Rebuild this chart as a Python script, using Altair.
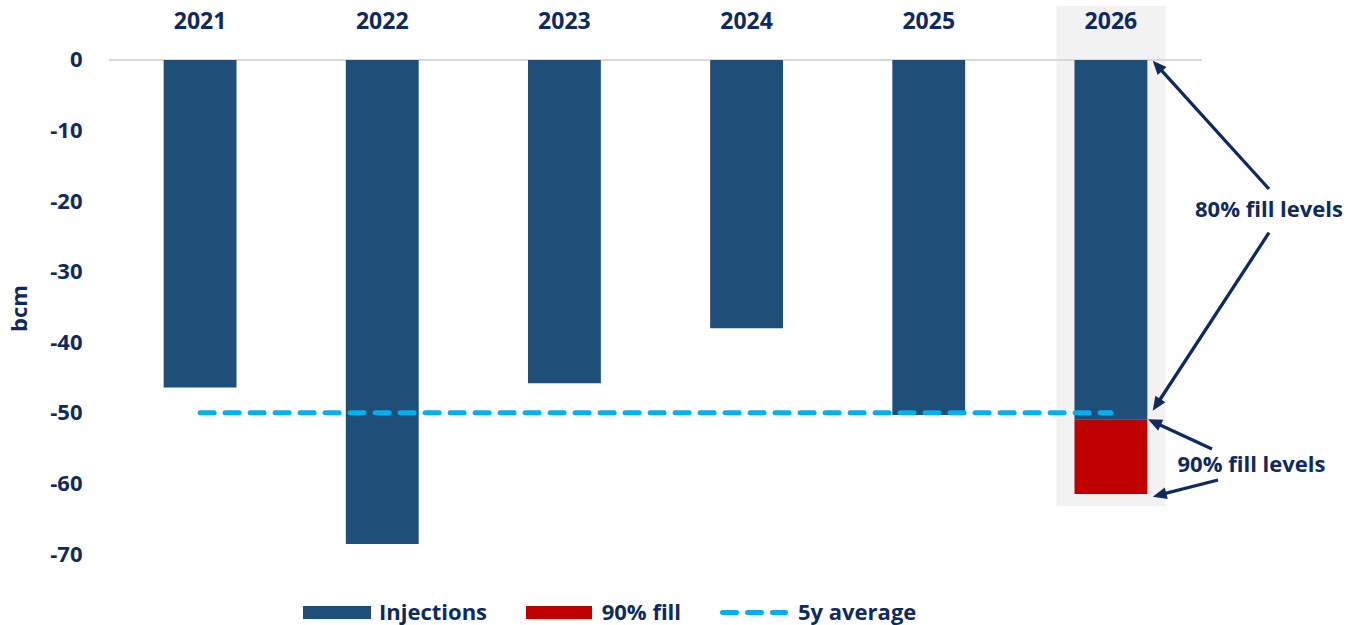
import math
import altair as alt
import pandas as pd

# ---------------- data ----------------
YEARS = ["2021", "2022", "2023", "2024", "2025", "2026"]
INJECTIONS = [-46.4, -68.6, -45.8, -38.0, -50.3, -50.9]
FILL_90_YEAR = "2026"
FILL_90_BOTTOM = -61.5
AVG_5Y = -50.0
Y_TICKS = [0, -10, -20, -30, -40, -50, -60, -70]
LEGEND_LABELS = ["Injections", "90% fill", "5y average"]
ANNOT_80 = "80% fill levels"
ANNOT_90 = "90% fill levels"
Y_TITLE = "bcm"

# ---------------- style ----------------
NAVY = "#1f4e79"
RED = "#c00000"
CYAN = "#00b0f0"
TEXT = "#0f2a5e"
ZERO = "#d9d9d9"
HILITE = "#f2f2f2"
FONT = "Open Sans"
FS = 22

W, H = 1093, 555
PAD_L, PAD_T = 109, 5

x_scale = alt.Scale(domain=YEARS, paddingInner=0.6, paddingOuter=0.3)
y_scale = alt.Scale(domain=[-70.85, 7.79], nice=False, zero=False)
X = alt.X("year:N", scale=x_scale, axis=None)

y_axis = alt.Axis(
    values=Y_TICKS, labelExpr="datum.value + ''", grid=False, ticks=False,
    domain=False, labelFont=FONT, labelFontSize=FS, labelFontWeight="bold",
    labelColor=TEXT, labelPadding=27, title=Y_TITLE, titleFont=FONT,
    titleFontSize=FS, titleFontWeight="bold", titleColor=TEXT,
    titleX=19.5 - PAD_L, titleY=308 - PAD_T, titleAngle=-90,
    titleAlign="center", titleBaseline="middle",
)

bars_df = pd.DataFrame({"year": YEARS, "value": INJECTIONS, "base": [0] * len(YEARS)})
fill_df = pd.DataFrame({"year": [FILL_90_YEAR],
                        "top": [INJECTIONS[YEARS.index(FILL_90_YEAR)]],
                        "bottom": [FILL_90_BOTTOM]})
avg_df = pd.DataFrame({"year": YEARS, "avg": [AVG_5Y] * len(YEARS)})

highlight = alt.Chart(pd.DataFrame({"year": [FILL_90_YEAR]})).mark_bar(
    color=HILITE, width=109
).encode(x=X, y=alt.value(1), y2=alt.value(501))

zero_rule = alt.Chart(pd.DataFrame({"v": [0]})).mark_rule(
    color=ZERO, strokeWidth=2
).encode(y=alt.Y("v:Q", scale=y_scale, axis=y_axis))

bars = alt.Chart(bars_df).mark_bar(color=NAVY).encode(
    x=X, y=alt.Y("value:Q", scale=y_scale, axis=y_axis), y2="base:Q"
)

fill_bar = alt.Chart(fill_df).mark_bar(color=RED).encode(
    x=X, y=alt.Y("bottom:Q", scale=y_scale, axis=y_axis), y2="top:Q"
)

avg_line = alt.Chart(avg_df).mark_line(
    color=CYAN, strokeWidth=5, strokeDash=[14, 11], strokeCap="round"
).encode(x=X, y=alt.Y("avg:Q", scale=y_scale, axis=y_axis))

year_labels = alt.Chart(pd.DataFrame({"year": YEARS})).mark_text(
    font=FONT, fontSize=23, fontWeight="bold", color=TEXT, baseline="middle"
).encode(x=X, y=alt.value(17), text="year:N")

# ---------------- annotations (pixel positions in plot area) ----------------
ARROWS = [  # tail x, tail y, tip x, tip y
    (1160, 184, 1043.7, 55.7),
    (1160, 227.7, 1043.7, 405.7),
    (1103, 444, 1039, 414.3),
    (1109, 475, 1043.7, 491.7),
]
rows, heads = [], []
for tx, ty, hx, hy in ARROWS:
    dx, dy = hx - tx, hy - ty
    L = math.hypot(dx, dy)
    ex, ey = hx - dx / L * 8, hy - dy / L * 8
    rows.append({"x": tx, "y": ty, "x2": ex, "y2": ey})
    ang = (math.degrees(math.atan2(dx, -dy)) + 360) % 360
    heads.append({"x": hx, "y": hy, "angle": ang})

arrow_lines = alt.Chart(pd.DataFrame(rows)).mark_rule(
    color=TEXT, strokeWidth=3.3
).encode(
    x=alt.X("x:Q", scale=None), y=alt.Y("y:Q", scale=None),
    x2="x2:Q", y2="y2:Q",
)
arrow_heads = alt.Chart(pd.DataFrame(heads)).mark_point(
    shape="M0,0L-0.857,2L0.857,2Z", size=196, filled=True, color=TEXT,
    opacity=1, strokeWidth=0,
).encode(
    x=alt.X("x:Q", scale=None), y=alt.Y("y:Q", scale=None),
    angle=alt.Angle("angle:Q", scale=None),
)

annot_df = pd.DataFrame({"label": [ANNOT_80, ANNOT_90],
                         "x": [1160, 1142.5], "y": [205, 460]})
annot_text = alt.Chart(annot_df).mark_text(
    font=FONT, fontSize=FS, fontWeight="bold", color=TEXT,
    align="center", baseline="middle",
).encode(x=alt.X("x:Q", scale=None), y=alt.Y("y:Q", scale=None), text="label:N")

# ---------------- legend ----------------
leg_rect_df = pd.DataFrame({"x": [194, 417], "x2": [262, 483],
                            "y": [601, 601], "y2": [614, 614],
                            "c": [NAVY, RED]})
leg_rects = alt.Chart(leg_rect_df).mark_rect().encode(
    x=alt.X("x:Q", scale=None), x2="x2:Q",
    y=alt.Y("y:Q", scale=None), y2="y2:Q",
    color=alt.Color("c:N", scale=None),
)
leg_dash = alt.Chart(pd.DataFrame({"x": [613.5], "x2": [676.5], "y": [607.5]})).mark_rule(
    color=CYAN, strokeWidth=5, strokeDash=[14, 11], strokeCap="round"
).encode(x=alt.X("x:Q", scale=None), x2="x2:Q", y=alt.Y("y:Q", scale=None))
leg_text = alt.Chart(pd.DataFrame({"label": LEGEND_LABELS,
                                   "x": [270, 492.7, 689], "y": [607.5] * 3})).mark_text(
    font=FONT, fontSize=FS, fontWeight="bold", color=TEXT,
    align="left", baseline="middle",
).encode(x=alt.X("x:Q", scale=None), y=alt.Y("y:Q", scale=None), text="label:N")

chart = alt.layer(
    highlight, zero_rule, bars, fill_bar, avg_line, year_labels,
    arrow_lines, arrow_heads, annot_text, leg_rects, leg_dash, leg_text,
).properties(
    width=W, height=H,
    autosize=alt.AutoSizeParams(type="none"),
    padding={"left": PAD_L, "top": PAD_T, "right": 1348 - PAD_L - W, "bottom": 625 - PAD_T - H},
    background="white",
).configure_view(stroke=None)

chart.save("out.html", embed_options={"renderer": "svg", "actions": False})
